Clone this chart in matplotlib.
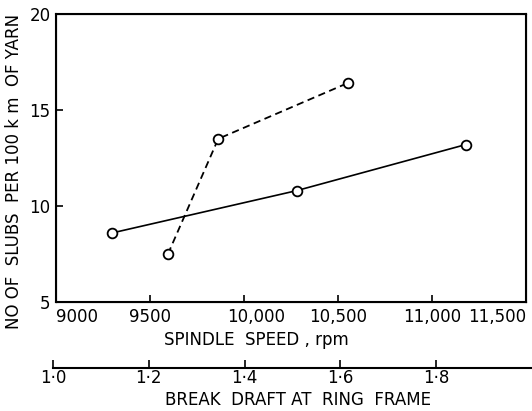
import matplotlib
matplotlib.use("Agg")
import matplotlib.pyplot as plt
import matplotlib.transforms as mtransforms

# Data
speed_rpm = [9300, 10280, 11180]
slubs_speed = [8.6, 10.8, 13.2]
break_draft = [1.24, 1.345, 1.615]
slubs_draft = [7.5, 13.5, 16.4]

x_ticks = [9000, 9500, 10000, 10500, 11000, 11500]
x_ticklabels = ["9000", "9500", "10,000", "10,500", "11,000", "11,500"]
y_ticks = [5, 10, 15, 20]
draft_ticks = [1.0, 1.2, 1.4, 1.6, 1.8]
draft_ticklabels = ["1·0", "1·2", "1·4", "1·6", "1·8"]

W, H = 532, 411
fig = plt.figure(figsize=(W / 100, H / 100), dpi=100)
plt.rcParams['font.family'] = ['DejaVu Sans']

def frac(x0, y0, x1, y1):
    return [x0 / W, 1 - y1 / H, (x1 - x0) / W, (y1 - y0) / H]

ax_l, ax_r, ax_t, ax_b = 56, 526, 14, 302
ax = fig.add_axes(frac(ax_l, ax_t, ax_r, ax_b))
ax.set_xlim(9000, 11500)
ax.set_ylim(5, 20)
ax.set_xticks(x_ticks)
ax.set_xticklabels(x_ticklabels, fontsize=12)
ax.set_yticks(y_ticks)
ax.set_yticklabels([str(v) for v in y_ticks], fontsize=12)
ax.tick_params(direction='in', length=5, width=1.2, pad=4)
for s in ax.spines.values():
    s.set_linewidth(1.5)
labels = ax.get_xticklabels()
labels[0].set_horizontalalignment('left')
labels[-1].set_horizontalalignment('right')
labels[2].set_transform(labels[2].get_transform() +
                        mtransforms.ScaledTranslation(0.12, 0, fig.dpi_scale_trans))

ax.plot(speed_rpm, slubs_speed, color='black', lw=1.2, marker='o', ms=7,
        mfc='white', mec='black', mew=1.3)

# secondary draft axis (drawn below)
d_l, d_r, d_y = 53, 532, 368
axd = fig.add_axes(frac(d_l, d_y - 1, d_r, d_y))
axd.set_xlim(1.0, 2.0)
axd.set_ylim(0, 1)
for k in ['top', 'left', 'right']:
    axd.spines[k].set_visible(False)
axd.spines['bottom'].set_linewidth(1.5)
axd.set_yticks([])
axd.set_xticks(draft_ticks)
axd.set_xticklabels(draft_ticklabels, fontsize=12)
axd.tick_params(axis='x', direction='out', length=6, width=1.2, pad=1)
axd.tick_params(axis='x', direction='in', length=6)
axd.patch.set_visible(False)

# dashed series in break-draft coordinates on a twin axis aligned with draft scale
axt = ax.twiny()
span = 1.0 / (d_r - d_l)
axt.set_xlim(1.0 + (ax_l - d_l) * span, 1.0 + (ax_r - d_l) * span)
axt.set_xticks([])
axt.plot(break_draft, slubs_draft, color='black', lw=1.3, linestyle=(0, (4, 2.5)),
         marker='o', ms=7, mfc='white', mec='black', mew=1.3)

fig.text(256 / W, 1 - 340 / H, "SPINDLE  SPEED , rpm", ha='center', va='center', fontsize=12)
fig.text(298 / W, 1 - 400 / H, "BREAK  DRAFT AT  RING  FRAME", ha='center', va='center', fontsize=12)
fig.text(14 / W, 1 - 171 / H, "NO OF  SLUBS  PER 100 k m  OF YARN", ha='center', va='center',
         rotation=90, fontsize=12)

fig.savefig("out.png", dpi=100)
